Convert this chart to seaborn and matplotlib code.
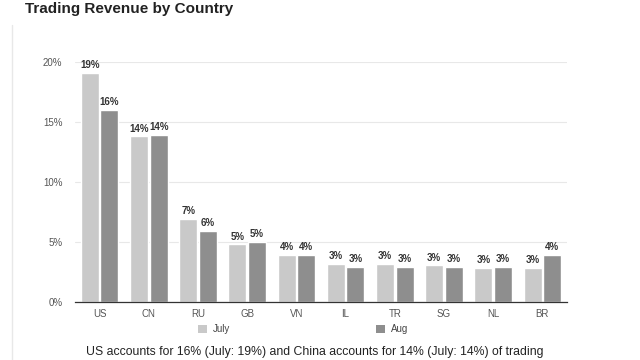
import matplotlib
matplotlib.use("Agg")
import matplotlib.pyplot as plt
import seaborn as sns
import pandas as pd
from matplotlib.patches import Patch
from matplotlib.lines import Line2D

countries = ["US", "CN", "RU", "GB", "VN", "IL", "TR", "SG", "NL", "BR"]
july = [19.1, 13.8, 6.95, 4.8, 3.9, 3.15, 3.15, 3.05, 2.85, 2.85]
aug = [16.0, 13.95, 5.95, 5.0, 3.95, 2.9, 2.9, 2.95, 2.95, 3.95]
series = ["July", "Aug"]
yticks = [0, 5, 10, 15, 20]
title = "Trading Revenue by Country"
caption = "US accounts for 16% (July: 19%) and China accounts for 14% (July: 14%) of trading"

df = pd.DataFrame({
    "country": countries * 2,
    "month": ["July"] * len(countries) + ["Aug"] * len(countries),
    "value": july + aug,
})

sns.set_theme(style="white")
plt.rcParams["font.family"] = ["Liberation Sans", "DejaVu Sans"]

colors = {"July": "#c9c9c9", "Aug": "#8e8e8e"}

fig = plt.figure(figsize=(6.4, 3.6), dpi=100)
ax = fig.add_axes([75 / 640, 1 - 302 / 360, 492 / 640, 240 / 360])

sns.barplot(data=df, x="country", y="value", hue="month", order=countries,
            hue_order=series, palette=colors, width=0.8, gap=0.08,
            saturation=1, legend=False, ax=ax)

for cont in ax.containers:
    labels = [f"{b.get_height():.0f}%" for b in cont]
    ax.bar_label(cont, labels=labels, padding=2, fontsize=7, fontweight="bold",
                 color="#333333")

ax.set_ylim(0, 20)
ax.set_xlim(-0.5, len(countries) - 0.5)
ax.set_yticks(yticks)
ax.set_yticklabels([f"{t}%" for t in yticks])
ax.set_xlabel("")
ax.set_ylabel("")
ax.tick_params(axis="both", labelsize=7, colors="#555555", length=0)
ax.tick_params(axis="y", pad=9)
ax.tick_params(axis="x", pad=5)
ax.grid(axis="y", color="#e8e8e8", linewidth=0.8)
ax.set_axisbelow(True)
for s in ["top", "right", "left"]:
    ax.spines[s].set_visible(False)
ax.spines["bottom"].set_color("#333333")
ax.spines["bottom"].set_linewidth(0.9)

fig.text(25 / 640, 1 - 9 / 360, title, fontsize=11, fontweight="bold",
         color="#222222", va="center", ha="left")

handles = [Patch(facecolor=colors[s], edgecolor="none", label=s) for s in series]
fig.legend(handles=handles, loc="center", bbox_to_anchor=(303 / 640, 1 - 329 / 360),
           ncol=2, frameon=False, fontsize=7, handlelength=0.9, handleheight=0.9,
           handletextpad=0.6, columnspacing=15, labelcolor="#444444")

fig.text(315 / 640, 1 - 352 / 360, caption, fontsize=8.8, color="#222222",
         ha="center", va="center")

fig.add_artist(Line2D([12 / 640, 12 / 640], [0, 1 - 25 / 360],
                      transform=fig.transFigure, color="#e8e8e8", linewidth=1))

fig.savefig("out.png", dpi=100, facecolor="white")
